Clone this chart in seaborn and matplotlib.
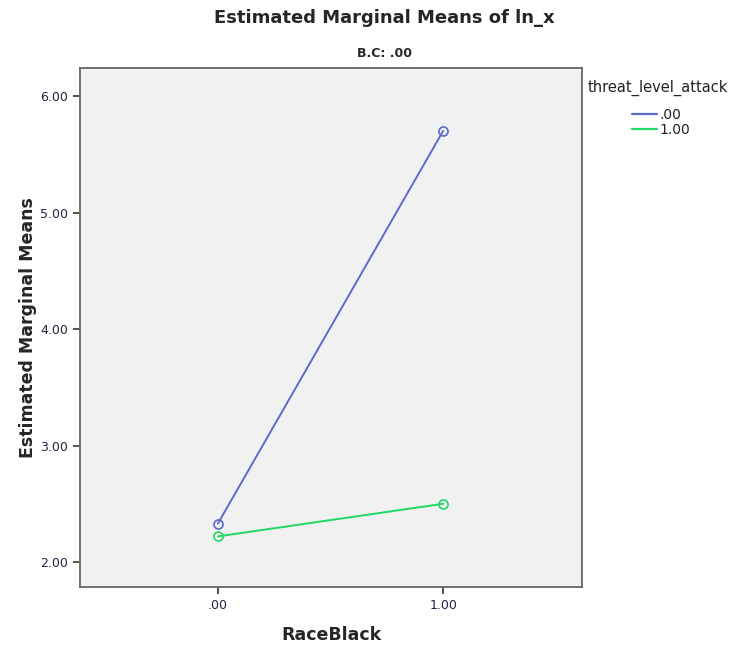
import pandas as pd
import matplotlib.pyplot as plt
import seaborn as sns
from matplotlib.lines import Line2D

# Values
race_black = [0.0, 1.0]
threat_levels = [".00", "1.00"]
means_threat_00 = [2.33, 5.70]
means_threat_100 = [2.22, 2.50]
y_ticks = [2.0, 3.0, 4.0, 5.0, 6.0]
x_ticks = [0.0, 1.0]

df = pd.DataFrame({
    "RaceBlack": race_black * 2,
    "mean": means_threat_00 + means_threat_100,
    "threat_level_attack": [threat_levels[0]] * 2 + [threat_levels[1]] * 2,
})

colors = {".00": "#5a6bcc", "1.00": "#20d865"}

sns.set_style("white")
plt.rcParams['font.family'] = ['DejaVu Sans']

fig = plt.figure(figsize=(7.39, 6.48), dpi=100)
ax = fig.add_axes([0.108, 0.094, 0.680, 0.801])
ax.set_facecolor("#f1f1f1")

sns.lineplot(data=df, x="RaceBlack", y="mean", hue="threat_level_attack",
             palette=colors, marker="o", markersize=6.5, markerfacecolor="none",
             markeredgewidth=1.2, linewidth=1.4, legend=False, ax=ax)
for ln in ax.lines:
    ln.set_markeredgecolor(ln.get_color())

ax.set_xlim(-0.613, 1.618)
ax.set_ylim(1.785, 6.24)
ax.set_xticks(x_ticks)
ax.set_xticklabels([".00", "1.00"])
ax.set_yticks(y_ticks)
ax.set_yticklabels([f"{v:.2f}" for v in y_ticks])
ax.tick_params(axis="both", direction="out", length=5, width=1.2, color="#333333",
               labelsize=9, labelcolor="#222244", left=True, bottom=True)
for s in ax.spines.values():
    s.set_color("#666666")
    s.set_linewidth(1.3)

ax.set_xlabel("RaceBlack", fontsize=12.5, fontweight="bold", labelpad=10)
ax.set_ylabel("Estimated Marginal Means", fontsize=12.5, fontweight="bold", labelpad=2)

fig.text(0.52, 0.972, "Estimated Marginal Means of ln_x", ha="center", va="center",
         fontsize=13, fontweight="bold")
fig.text(0.52, 0.917, "B.C: .00", ha="center", va="center",
         fontsize=9, fontweight="bold")

# legend: title on its own, entries indented as in the original
fig.text(588 / 739, 1 - 88 / 648, "threat_level_attack", ha="left", va="center",
         fontsize=10.5, color="#222222")
handles = [Line2D([0], [0], color=colors[t], linewidth=1.6) for t in threat_levels]
leg = fig.legend(handles, threat_levels, loc="upper left",
                 bbox_to_anchor=(632 / 739, 1 - 108 / 648), frameon=False,
                 fontsize=10, handlelength=1.8, handletextpad=0.15,
                 labelspacing=0.05, borderpad=0, borderaxespad=0)
for t in leg.get_texts():
    t.set_color("#222222")

fig.savefig("out.png", dpi=100)
